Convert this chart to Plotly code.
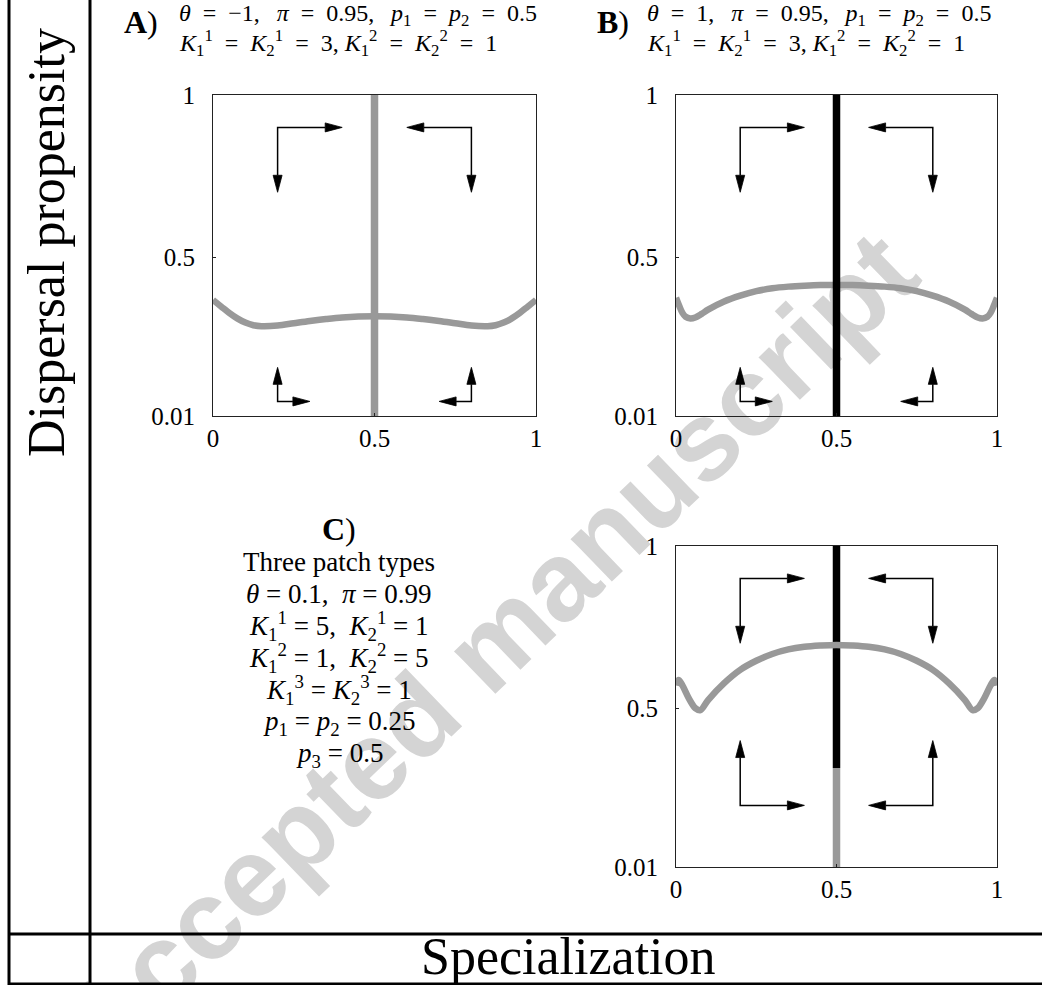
import math
import plotly.graph_objects as go

W, H = 1042, 985

# ---------------- data ----------------
xA = [0, 0.025, 0.05, 0.075, 0.1, 0.125, 0.15, 0.2, 0.25, 0.3, 0.35, 0.4, 0.45, 0.5,
      0.55, 0.6, 0.65, 0.7, 0.75, 0.8, 0.85, 0.875, 0.9, 0.925, 0.95, 0.975, 1]
yA = [0.368, 0.348, 0.328, 0.311, 0.298, 0.290, 0.287, 0.289, 0.296, 0.303, 0.309, 0.314, 0.317, 0.318,
      0.317, 0.314, 0.309, 0.303, 0.296, 0.289, 0.287, 0.290, 0.298, 0.311, 0.328, 0.348, 0.368]

xB = [0, 0.01, 0.02, 0.03, 0.045, 0.06, 0.08, 0.1, 0.15, 0.2, 0.25, 0.3, 0.35, 0.4, 0.45, 0.5,
      0.55, 0.6, 0.65, 0.7, 0.75, 0.8, 0.85, 0.9, 0.92, 0.94, 0.955, 0.97, 0.98, 0.99, 1]
yB = [0.375, 0.35, 0.328, 0.316, 0.311, 0.314, 0.325, 0.338, 0.363, 0.381, 0.395, 0.404, 0.409, 0.412, 0.414, 0.414,
      0.414, 0.412, 0.409, 0.404, 0.395, 0.381, 0.363, 0.338, 0.325, 0.314, 0.311, 0.316, 0.328, 0.35, 0.375]

xC = [0, 0.008, 0.02, 0.04, 0.06, 0.076, 0.1, 0.15, 0.2, 0.25, 0.3, 0.35, 0.4, 0.45, 0.5,
      0.55, 0.6, 0.65, 0.7, 0.75, 0.8, 0.85, 0.9, 0.924, 0.94, 0.96, 0.98, 0.992, 1]
yC = [0.57, 0.587, 0.57, 0.53, 0.5, 0.494, 0.525, 0.577, 0.618, 0.646, 0.667, 0.681, 0.689, 0.693, 0.695,
      0.693, 0.689, 0.681, 0.667, 0.646, 0.618, 0.577, 0.525, 0.494, 0.5, 0.53, 0.57, 0.587, 0.57]

# vertical equilibrium line at x = 0.5
vline_x = 0.5
vA_range = [0.01, 1]          # gray in A
vB_range = [0.01, 1]          # black in B
vC_black = [0.315, 1]         # black part in C
vC_gray = [0.01, 0.315]       # gray part in C

# arrow L-shapes: corner (x, y), horizontal tip x, vertical tip y
arr_AB_corner = [(0.2, 0.9), (0.8, 0.9), (0.2, 0.055), (0.8, 0.055)]
arr_AB_htip = [0.4, 0.6, 0.3, 0.7]
arr_AB_vtip = [0.7, 0.7, 0.16, 0.16]
arr_C_corner = [(0.2, 0.9), (0.8, 0.9), (0.2, 0.2), (0.8, 0.2)]
arr_C_htip = [0.4, 0.6, 0.4, 0.6]
arr_C_vtip = [0.7, 0.7, 0.4, 0.4]

x_ticks = [0, 0.5, 1]
x_ticklabels = ["0", "0.5", "1"]
y_ticks = [0.01, 0.5, 1]
y_ticklabels = ["0.01", "0.5", "1"]

EQ = "\u2002=\u2002"
CM = ",\u2002\u2009"
title_A = ["<i>θ</i>" + EQ + "−1" + CM + "<i>π</i>" + EQ + "0.95" + CM +
           "<i>p</i><sub>1</sub>" + EQ + "<i>p</i><sub>2</sub>" + EQ + "0.5",
           "<i>K</i><sub>1</sub><sup>1</sup>" + EQ + "<i>K</i><sub>2</sub><sup>1</sup>" + EQ + "3, " +
           "<i>K</i><sub>1</sub><sup>2</sup>" + EQ + "<i>K</i><sub>2</sub><sup>2</sup>" + EQ + "1"]
title_B = ["<i>θ</i>" + EQ + "1" + CM + "<i>π</i>" + EQ + "0.95" + CM +
           "<i>p</i><sub>1</sub>" + EQ + "<i>p</i><sub>2</sub>" + EQ + "0.5",
           "<i>K</i><sub>1</sub><sup>1</sup>" + EQ + "<i>K</i><sub>2</sub><sup>1</sup>" + EQ + "3, " +
           "<i>K</i><sub>1</sub><sup>2</sup>" + EQ + "<i>K</i><sub>2</sub><sup>2</sup>" + EQ + "1"]
text_C = ["Three patch types",
          "<i>θ</i> = 0.1,\u00a0 <i>π</i> = 0.99",
          "<i>K</i><sub>1</sub><sup>1</sup> = 5,\u00a0 <i>K</i><sub>2</sub><sup>1</sup> = 1",
          "<i>K</i><sub>1</sub><sup>2</sup> = 1,\u00a0 <i>K</i><sub>2</sub><sup>2</sup> = 5",
          "<i>K</i><sub>1</sub><sup>3</sup> = <i>K</i><sub>2</sub><sup>3</sup> = 1",
          "<i>p</i><sub>1</sub> = <i>p</i><sub>2</sub> = 0.25",
          "<i>p</i><sub>3</sub> = 0.5"]
ylabel = "Dispersal propensity"
xlabel = "Specialization"
watermark = "Accepted manuscript"

# ---------------- style / layout ----------------
SERIF = "Liberation Serif"
GRAY = "#999999"
BLACK = "#000000"
CURVE_W = 6.5
VLINE_W = 7.5
SHAFT_W = 1.5
HEAD_LEN = 17.0
HEAD_HALF = 4.5
Y_RANGE = [0.01, 1]

panels = {
    "A": dict(px0=213, px1=536, py0=95, py1=416, xa="x", ya="y"),
    "B": dict(px0=676, px1=997, py0=95, py1=416, xa="x2", ya="y2"),
    "C": dict(px0=676, px1=997, py0=546, py1=867, xa="x3", ya="y3"),
}


def fx(p):
    return p / W


def fy(p):
    return 1 - p / H


fig = go.Figure()


def add_line(panel, x, y, color, width, shape="linear"):
    p = panels[panel]
    fig.add_trace(go.Scatter(x=x, y=y, mode="lines", xaxis=p["xa"], yaxis=p["ya"],
                             line=dict(color=color, width=width, shape=shape),
                             hoverinfo="skip", showlegend=False))


def add_arrows(panel, corners, htips, vtips):
    p = panels[panel]
    sx_pp = (p["px1"] - p["px0"]) / 1.0
    sy_pp = (p["py1"] - p["py0"]) / (Y_RANGE[1] - Y_RANGE[0])
    shx, shy, hx, hy = [], [], [], []
    for (cx, cy), htx, vty in zip(corners, htips, vtips):
        bases = []
        for tx, ty in ((htx, cy), (cx, vty)):
            dx = (tx - cx) * sx_pp
            dy = (ty - cy) * sy_pp
            L = math.hypot(dx, dy)
            ux, uy = dx / L, dy / L
            bx = tx - HEAD_LEN * ux / sx_pp
            by = ty - HEAD_LEN * uy / sy_pp
            bases.append((bx, by))
            p1 = (bx - HEAD_HALF * uy / sx_pp, by + HEAD_HALF * ux / sy_pp)
            p2 = (bx + HEAD_HALF * uy / sx_pp, by - HEAD_HALF * ux / sy_pp)
            hx += [tx, p1[0], p2[0], tx, None]
            hy += [ty, p1[1], p2[1], ty, None]
        shx += [bases[0][0], cx, bases[1][0], None]
        shy += [bases[0][1], cy, bases[1][1], None]
    fig.add_trace(go.Scatter(x=shx, y=shy, mode="lines", xaxis=p["xa"], yaxis=p["ya"],
                             line=dict(color=BLACK, width=SHAFT_W), hoverinfo="skip",
                             showlegend=False))
    fig.add_trace(go.Scatter(x=hx, y=hy, mode="lines", fill="toself", fillcolor=BLACK,
                             xaxis=p["xa"], yaxis=p["ya"],
                             line=dict(color=BLACK, width=0.8), hoverinfo="skip",
                             showlegend=False))


# Panel A
add_line("A", xA, yA, GRAY, CURVE_W, "spline")
add_line("A", [vline_x, vline_x], vA_range, GRAY, VLINE_W)
add_arrows("A", arr_AB_corner, arr_AB_htip, arr_AB_vtip)
# Panel B
add_line("B", xB, yB, GRAY, CURVE_W, "spline")
add_line("B", [vline_x, vline_x], vB_range, BLACK, VLINE_W)
add_arrows("B", arr_AB_corner, arr_AB_htip, arr_AB_vtip)
# Panel C
add_line("C", [vline_x, vline_x], vC_black, BLACK, VLINE_W)
add_line("C", [vline_x, vline_x], vC_gray, GRAY, VLINE_W)
add_line("C", xC, yC, GRAY, CURVE_W, "spline")
add_arrows("C", arr_C_corner, arr_C_htip, arr_C_vtip)

axis_common = dict(showgrid=False, zeroline=False, showline=True, mirror=True,
                   linecolor="#222222", linewidth=1, ticks="inside", ticklen=3,
                   tickcolor="#222222", automargin=False,
                   tickfont=dict(family=SERIF, size=25, color=BLACK))

layout_axes = {}
for name, p in panels.items():
    xn = "xaxis" if p["xa"] == "x" else "xaxis" + p["xa"][1:]
    yn = "yaxis" if p["ya"] == "y" else "yaxis" + p["ya"][1:]
    layout_axes[xn] = dict(axis_common, domain=[fx(p["px0"]), fx(p["px1"])], range=[0, 1],
                           tickvals=x_ticks, ticktext=x_ticklabels, anchor=p["ya"],
                           ticklabelstandoff=0)
    layout_axes[yn] = dict(axis_common, domain=[fy(p["py1"]), fy(p["py0"])], range=Y_RANGE,
                           tickvals=y_ticks, ticktext=y_ticklabels, anchor=p["xa"],
                           ticklabelstandoff=12)

annotations = []


def ann(text, x, y, size, xanchor="center", textangle=0):
    annotations.append(dict(text=text, x=fx(x), y=fy(y), xref="paper", yref="paper",
                            showarrow=False, xanchor=xanchor, yanchor="middle",
                            textangle=textangle,
                            font=dict(family=SERIF, size=size, color=BLACK)))


ann("<b>A</b>)", 141, 22, 32)
ann(title_A[0], 177, 15, 24, "left")
ann(title_A[1], 177, 43, 24, "left")
ann("<b>B</b>)", 613, 22, 32)
ann(title_B[0], 645, 15, 24, "left")
ann(title_B[1], 645, 43, 24, "left")
ann("<b>C</b>)", 339, 529, 32)
c_rows = [562, 594, 626, 658, 690, 723, 755]
for t, yy in zip(text_C, c_rows):
    ann(t, 339, yy, 27)
ann(ylabel, 46, 243, 52, textangle=-90)
ann(xlabel, 568, 956, 52)

LW = 3
shapes = [
    dict(type="line", xref="paper", yref="paper", x0=fx(9), x1=fx(9), y0=fy(0), y1=fy(985),
         line=dict(color=BLACK, width=LW)),
    dict(type="line", xref="paper", yref="paper", x0=fx(90), x1=fx(90), y0=fy(0), y1=fy(985),
         line=dict(color=BLACK, width=LW)),
    dict(type="line", xref="paper", yref="paper", x0=fx(9), x1=fx(1042), y0=fy(934), y1=fy(934),
         line=dict(color=BLACK, width=LW)),
    dict(type="line", xref="paper", yref="paper", x0=fx(9), x1=fx(1042), y0=fy(984), y1=fy(984),
         line=dict(color=BLACK, width=LW)),
    dict(type="rect", xref="paper", yref="paper", layer="below",
         x0=fx(470), x1=fx(490), y0=fy(650), y1=fy(630),
         line=dict(width=0), fillcolor="rgba(0,0,0,0)",
         label=dict(text="<b>" + watermark + "</b>", textangle=-44, textposition="middle center",
                    font=dict(family="Liberation Sans", size=112, color="#d4d4d4"))),
]

fig.update_layout(
    width=W, height=H, autosize=False,
    margin=dict(l=0, r=0, t=0, b=0, pad=0, autoexpand=False),
    paper_bgcolor="white", plot_bgcolor="rgba(0,0,0,0)",
    showlegend=False,
    annotations=annotations, shapes=shapes,
    **layout_axes,
)

fig.write_html(
    "out.html",
    config={"displayModeBar": False},
    post_script=("document.body.style.margin='0px';"
                 "document.body.style.overflow='hidden';"
                 "document.documentElement.style.overflow='hidden';"),
)
